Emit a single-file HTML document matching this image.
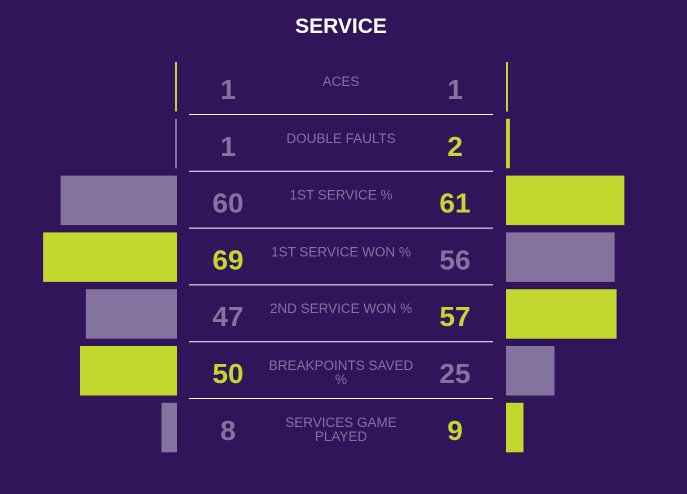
<!DOCTYPE html>
<html><head><meta charset="utf-8"><style>
html,body{margin:0;padding:0;background:#31145a;width:687px;height:494px;overflow:hidden}
svg{display:block;font-family:"Liberation Sans",sans-serif}
</style></head><body>
<svg id="c" width="687" height="494">
<rect width="687" height="494" fill="#31145a"/>
<text x="341" y="33" text-anchor="middle" fill="#fff" font-size="21" font-weight="bold">SERVICE</text>
</svg>
<script>
const categories=[["ACES"],["DOUBLE FAULTS"],["1ST SERVICE %"],["1ST SERVICE WON %"],["2ND SERVICE WON %"],["BREAKPOINTS SAVED","%"],["SERVICES GAME","PLAYED"]];
const leftValues=[1,1,60,69,47,50,8];
const rightValues=[1,2,61,56,57,25,9];
const LIME="#c2d82e",GRAY="#85739f";
const svg=document.getElementById('c');
const NS="http://www.w3.org/2000/svg";
const scale=v=>v*1.94;
const rowY=i=>62+56.8*i;
function mk(tag,attrs){const e=document.createElementNS(NS,tag);for(const k in attrs)e.setAttribute(k,attrs[k]);svg.appendChild(e);return e;}
categories.forEach((lab,i)=>{
  const y=rowY(i),l=leftValues[i],r=rightValues[i];
  const lw=Math.max(2,scale(l)),rw=Math.max(2,scale(r));
  const lb=mk('rect',{x:177-lw,y:y,width:lw,height:49.5,fill:l>=r?LIME:GRAY});
  
  
  const rb=mk('rect',{x:506,y:y,width:rw,height:49.5,fill:r>=l?LIME:GRAY});
  
  
  const lt=mk('text',{x:228,y:y+37,'text-anchor':'middle','font-size':28,'font-weight':'bold',fill:l>r?LIME:GRAY});
  lt.textContent=l;
  
  
  const rt=mk('text',{x:455,y:y+37,'text-anchor':'middle','font-size':28,'font-weight':'bold',fill:r>l?LIME:GRAY});
  rt.textContent=r;
  
  
  lab.forEach((s,j)=>{
    const t=mk('text',{x:341,y:y+24+j*14,'text-anchor':'middle','font-size':13.5,fill:GRAY});
    t.textContent=s;
    
    
  });
  if(i<categories.length-1){
    const ln=mk('line',{x1:189,x2:493,y1:y+52.5,y2:y+52.5,stroke:'#fff','stroke-width':1});
    
    
  }
});
</script>
</body></html>
